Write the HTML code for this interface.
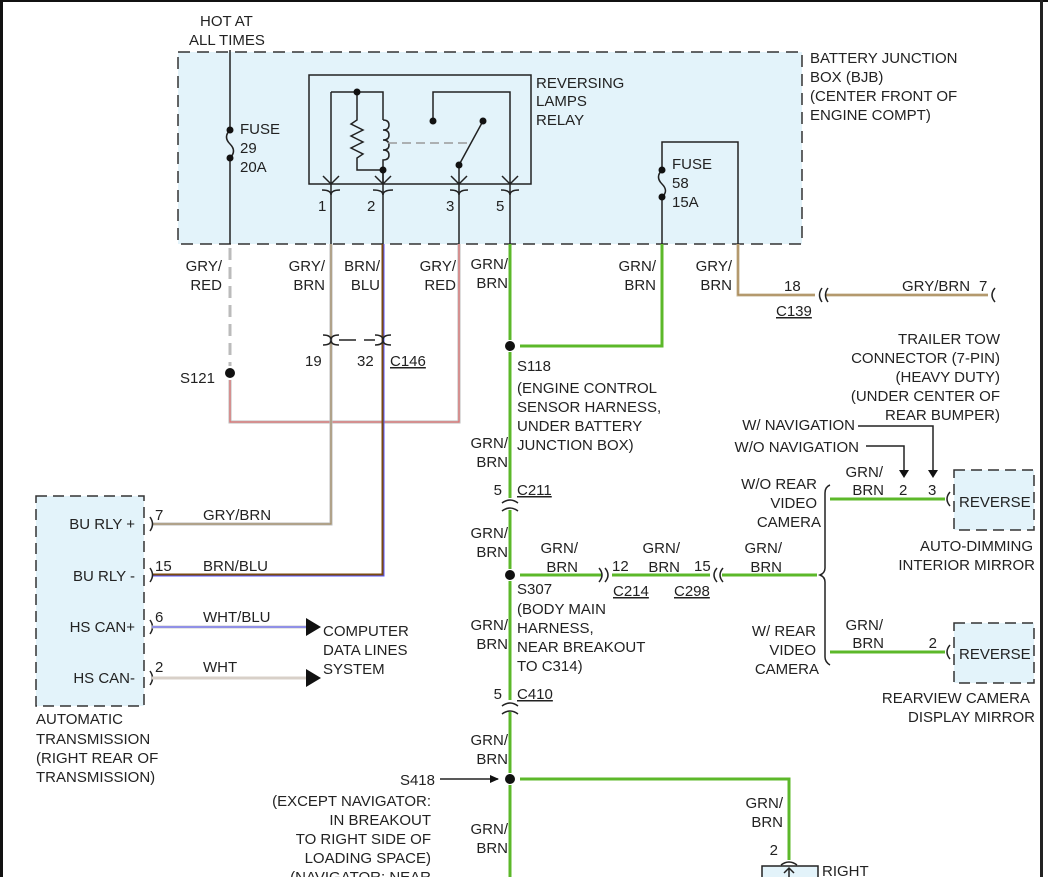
<!DOCTYPE html>
<html><head><meta charset="utf-8"><style>
html,body{margin:0;padding:0;background:#fff}
svg{display:block}
text{font-family:"Liberation Sans",sans-serif;font-size:15px;fill:#222}
.e{text-anchor:end}
.m{text-anchor:middle}
</style></head><body>
<svg width="1048" height="877" viewBox="0 0 1048 877" xmlns="http://www.w3.org/2000/svg">
<rect x="0" y="0" width="3" height="877" fill="#111"/>
<rect x="0" y="0" width="1048" height="2" fill="#111"/>
<rect x="1040" y="0" width="3" height="877" fill="#222"/>

<rect x="178" y="52" width="624" height="192" fill="#e3f3fa" stroke="#333" stroke-width="1.5" stroke-dasharray="12,7"/>
<rect x="309" y="75" width="222" height="109" fill="#e3f3fa" stroke="#222" stroke-width="1.5"/>
<text x="200" y="26">HOT AT</text><text x="189" y="45">ALL TIMES</text>
<text x="810" y="63">BATTERY JUNCTION</text><text x="810" y="82">BOX (BJB)</text>
<text x="810" y="101">(CENTER FRONT OF</text><text x="810" y="120">ENGINE COMPT)</text>
<text x="536" y="88">REVERSING</text><text x="536" y="106">LAMPS</text><text x="536" y="125">RELAY</text>

<g stroke="#222" stroke-width="1.5" fill="none">
<path d="M230 50 V130 M230 158 V244"/>
<path d="M230 130 q-7 7 0 14 q7 7 0 14"/>
<path d="M331 92 V184 M331 92 H383 V120 M357 92 V120 l-6 4 l12 6 l-12 6 l12 6 l-12 6 l12 6 l-6 4 V170 H383 V184"/>
<path d="M383 120 q6 0 6 5 q0 5 -6 5 q6 0 6 5 q0 5 -6 5 q6 0 6 5 q0 5 -6 5 q6 0 6 5 q0 5 -6 5 V184"/>
<path d="M433 121 V92 H510 V184 M459 165 L483 121 M459 165 V184"/>
<path d="M331 184 V244 M383 184 V244 M459 184 V244 M510 184 V244"/>
<path d="M323 176 L331 184 L339 176 M375 176 L383 184 L391 176 M451 176 L459 184 L467 176 M502 176 L510 184 L518 176"/>
<path d="M322 190 q9 0 9 5 q0 -5 9 -5 M373 190 q10 0 10 5 q0 -5 10 -5 M450 190 q9 0 9 5 q0 -5 9 -5 M501 190 q9 0 9 5 q0 -5 9 -5"/>
<path d="M662 244 V197 M662 170 V142 H738 V244"/>
<path d="M662 170 q-7 7 0 14 q7 7 0 13"/>
</g>
<path d="M388 143 H470" stroke="#999" stroke-width="1.5" stroke-dasharray="9,5"/>
<g fill="#111">
<circle cx="230" cy="130" r="3.5"/><circle cx="230" cy="158" r="3.5"/>
<circle cx="357" cy="92" r="3.5"/><circle cx="383" cy="170" r="3.5"/>
<circle cx="433" cy="121" r="3.5"/><circle cx="483" cy="121" r="3.5"/><circle cx="459" cy="165" r="3.5"/>
<circle cx="662" cy="170" r="3.5"/><circle cx="662" cy="197" r="3.5"/>
</g>
<text x="240" y="134">FUSE</text><text x="240" y="153">29</text><text x="240" y="172">20A</text>
<text x="672" y="169">FUSE</text><text x="672" y="188">58</text><text x="672" y="207">15A</text>
<text x="318" y="211">1</text><text x="367" y="211">2</text><text x="446" y="211">3</text><text x="496" y="211">5</text>

<path d="M230 248 V366" stroke="#bbb" stroke-width="3" stroke-dasharray="12,7"/>
<path d="M230 380 V422 H459 V244" stroke="#bbb" stroke-width="3" fill="none"/>
<path d="M230 380 V422 H459 V244" stroke="#e66" stroke-width="1" fill="none"/>
<circle cx="230" cy="373" r="5" fill="#111"/>
<path d="M331 244 V524 H152" stroke="#bbb" stroke-width="3" fill="none"/>
<path d="M331 244 V524 H152" stroke="#a58a5a" stroke-width="1" fill="none"/>
<path d="M383 244 V575 H152" stroke="#7a4a10" stroke-width="3" fill="none"/>
<path d="M384 244 V576 H152" stroke="#55f" stroke-width="1" fill="none"/>
<g stroke="#222" stroke-width="1.5" fill="none">
<path d="M323 335 q8 0 8 5 q0 -5 8 -5 M323 345 q8 0 8 -5 q0 5 8 5"/>
<path d="M375 335 q8 0 8 5 q0 -5 8 -5 M375 345 q8 0 8 -5 q0 5 8 5"/>
<path d="M339 340 H356 M364 340 H375"/>
</g>
<text x="305" y="366">19</text><text x="357" y="366">32</text><text x="390" y="366" text-decoration="underline">C146</text>
<text x="222" y="271" class="e">GRY/</text><text x="222" y="290" class="e">RED</text>
<text x="325" y="271" class="e">GRY/</text><text x="325" y="290" class="e">BRN</text>
<text x="380" y="271" class="e">BRN/</text><text x="380" y="290" class="e">BLU</text>
<text x="456" y="271" class="e">GRY/</text><text x="456" y="290" class="e">RED</text>
<text x="508" y="269" class="e">GRN/</text><text x="508" y="288" class="e">BRN</text>
<text x="656" y="271" class="e">GRN/</text><text x="656" y="290" class="e">BRN</text>
<text x="732" y="271" class="e">GRY/</text><text x="732" y="290" class="e">BRN</text>
<text x="215" y="383" class="e">S121</text>

<g stroke="#5cb82a" stroke-width="3" fill="none">
<path d="M510 244 V340 M510 352 V498 M510 510 V569 M510 581 V700 M510 712 V773 M510 785 V877"/>
<path d="M520 346 H662 V244"/>
<path d="M520 575 H602 M612 575 H710 M722 575 H817"/>
<path d="M830 499 H945 M830 652 H945"/>
<path d="M520 779 H789 V860"/>
</g>
<g fill="#111">
<circle cx="510" cy="346" r="5"/><circle cx="510" cy="575" r="5"/><circle cx="510" cy="779" r="5"/>
</g>
<path d="M738 244 V295 H815 M826 295 H988" stroke="#c8b89a" stroke-width="3" fill="none"/>
<path d="M738 244 V295 H815 M826 295 H988" stroke="#a07a40" stroke-width="1" fill="none"/>
<g stroke="#222" stroke-width="1.5" fill="none">
<path d="M822 288 q-5 7 0 14 M828 288 q-5 7 0 14"/>
<path d="M995 288 q-6 7 0 14"/>
<path d="M502 503 q8 -6 16 0 M502 511 q8 -6 16 0"/>
<path d="M502 706 q8 -6 16 0 M502 714 q8 -6 16 0"/>
<path d="M599 568 q6 7 0 14 M605 568 q6 7 0 14"/>
<path d="M717 568 q-6 7 0 14 M723 568 q-6 7 0 14"/>
<path d="M830 485 q-5 2 -5 8 V568 q0 5 -5 7 q5 2 5 7 V657 q0 5 5 8"/>
<path d="M950 492 q-6 7 0 14 M950 645 q-6 7 0 14"/>
<path d="M866 446 H904 V470 M858 426 H933 V470"/>
<path d="M781 865 q8 -6 16 0"/>
<path d="M150 517 q5 7 0 14 M150 568 q5 7 0 14 M150 620 q5 7 0 14 M150 671 q5 7 0 14"/>
<path d="M440 779 H498"/>
</g>
<g fill="#111">
<path d="M899 470 L909 470 L904 478 Z"/><path d="M928 470 L938 470 L933 478 Z"/>
<path d="M490 775 L499 779 L490 783 Z"/>
</g>
<text x="784" y="291">18</text><text x="776" y="316" text-decoration="underline">C139</text>
<text x="902" y="291">GRY/BRN</text><text x="979" y="291">7</text>
<text x="1000" y="344" class="e">TRAILER TOW</text><text x="1000" y="363" class="e">CONNECTOR (7-PIN)</text>
<text x="1000" y="382" class="e">(HEAVY DUTY)</text><text x="1000" y="401" class="e">(UNDER CENTER OF</text><text x="1000" y="420" class="e">REAR BUMPER)</text>
<text x="517" y="371">S118</text><text x="517" y="393">(ENGINE CONTROL</text><text x="517" y="412">SENSOR HARNESS,</text>
<text x="517" y="431">UNDER BATTERY</text><text x="517" y="450">JUNCTION BOX)</text>
<text x="508" y="448" class="e">GRN/</text><text x="508" y="467" class="e">BRN</text>
<text x="502" y="495" class="e">5</text><text x="517" y="495" text-decoration="underline">C211</text>
<text x="508" y="538" class="e">GRN/</text><text x="508" y="557" class="e">BRN</text>
<text x="578" y="553" class="e">GRN/</text><text x="578" y="572" class="e">BRN</text>
<text x="612" y="571">12</text><text x="613" y="596" text-decoration="underline">C214</text>
<text x="680" y="553" class="e">GRN/</text><text x="680" y="572" class="e">BRN</text>
<text x="694" y="571">15</text><text x="674" y="596" text-decoration="underline">C298</text>
<text x="782" y="553" class="e">GRN/</text><text x="782" y="572" class="e">BRN</text>
<text x="517" y="594">S307</text><text x="517" y="614">(BODY MAIN</text><text x="517" y="633">HARNESS,</text>
<text x="517" y="652">NEAR BREAKOUT</text><text x="517" y="671">TO C314)</text>
<text x="508" y="630" class="e">GRN/</text><text x="508" y="649" class="e">BRN</text>
<text x="502" y="699" class="e">5</text><text x="517" y="699" text-decoration="underline">C410</text>
<text x="508" y="745" class="e">GRN/</text><text x="508" y="764" class="e">BRN</text>
<text x="435" y="785" class="e">S418</text>
<text x="431" y="806" class="e">(EXCEPT NAVIGATOR:</text><text x="431" y="825" class="e">IN BREAKOUT</text>
<text x="431" y="844" class="e">TO RIGHT SIDE OF</text><text x="431" y="863" class="e">LOADING SPACE)</text>
<text x="431" y="882" class="e">(NAVIGATOR: NEAR</text>
<text x="508" y="834" class="e">GRN/</text><text x="508" y="853" class="e">BRN</text>
<text x="783" y="808" class="e">GRN/</text><text x="783" y="827" class="e">BRN</text>
<text x="778" y="855" class="e">2</text>
<rect x="762" y="866" width="56" height="14" fill="#e3f3fa" stroke="#222" stroke-width="1.5"/>
<path d="M789 877 V868 M784 873 L789 868 L794 873" stroke="#222" stroke-width="1.5" fill="none"/>
<text x="822" y="876">RIGHT</text>

<text x="855" y="430" class="e">W/ NAVIGATION</text><text x="859" y="452" class="e">W/O NAVIGATION</text>
<text x="817" y="489" class="e">W/O REAR</text><text x="817" y="508" class="e">VIDEO</text><text x="821" y="527" class="e">CAMERA</text>
<text x="883" y="477" class="e">GRN/</text><text x="884" y="495" class="e">BRN</text>
<text x="899" y="495">2</text><text x="928" y="495">3</text>
<rect x="954" y="470" width="80" height="60" fill="#e3f3fa" stroke="#333" stroke-width="1.5" stroke-dasharray="11,6"/>
<text x="959" y="507">REVERSE</text>
<text x="1033" y="551" class="e">AUTO-DIMMING</text><text x="1035" y="570" class="e">INTERIOR MIRROR</text>
<text x="816" y="636" class="e">W/ REAR</text><text x="816" y="655" class="e">VIDEO</text><text x="819" y="674" class="e">CAMERA</text>
<text x="883" y="630" class="e">GRN/</text><text x="884" y="648" class="e">BRN</text><text x="937" y="648" class="e">2</text>
<rect x="954" y="623" width="80" height="60" fill="#e3f3fa" stroke="#333" stroke-width="1.5" stroke-dasharray="11,6"/>
<text x="959" y="659">REVERSE</text>
<text x="1030" y="703" class="e">REARVIEW CAMERA</text><text x="1035" y="722" class="e">DISPLAY MIRROR</text>

<rect x="36" y="496" width="108" height="210" fill="#e3f3fa" stroke="#333" stroke-width="1.5" stroke-dasharray="11,6"/>
<text x="135" y="529" class="e">BU RLY +</text><text x="135" y="581" class="e">BU RLY -</text>
<text x="135" y="632" class="e">HS CAN+</text><text x="135" y="683" class="e">HS CAN-</text>
<text x="155" y="520">7</text><text x="155" y="571">15</text><text x="155" y="622">6</text><text x="155" y="672">2</text>
<text x="203" y="520">GRY/BRN</text><text x="203" y="571">BRN/BLU</text><text x="203" y="622">WHT/BLU</text><text x="203" y="672">WHT</text>
<path d="M152 627 H308" stroke="#ccc" stroke-width="3"/><path d="M152 627 H308" stroke="#55f" stroke-width="1"/>
<path d="M152 678 H308" stroke="#d8d0c8" stroke-width="3"/>
<path d="M306 618 L321 627 L306 636 Z M306 669 L321 678 L306 687 Z" fill="#111"/>
<text x="323" y="636">COMPUTER</text><text x="323" y="655">DATA LINES</text><text x="323" y="674">SYSTEM</text>
<text x="36" y="724">AUTOMATIC</text><text x="36" y="744">TRANSMISSION</text>
<text x="36" y="763">(RIGHT REAR OF</text><text x="36" y="782">TRANSMISSION)</text>
</svg>
</body></html>
